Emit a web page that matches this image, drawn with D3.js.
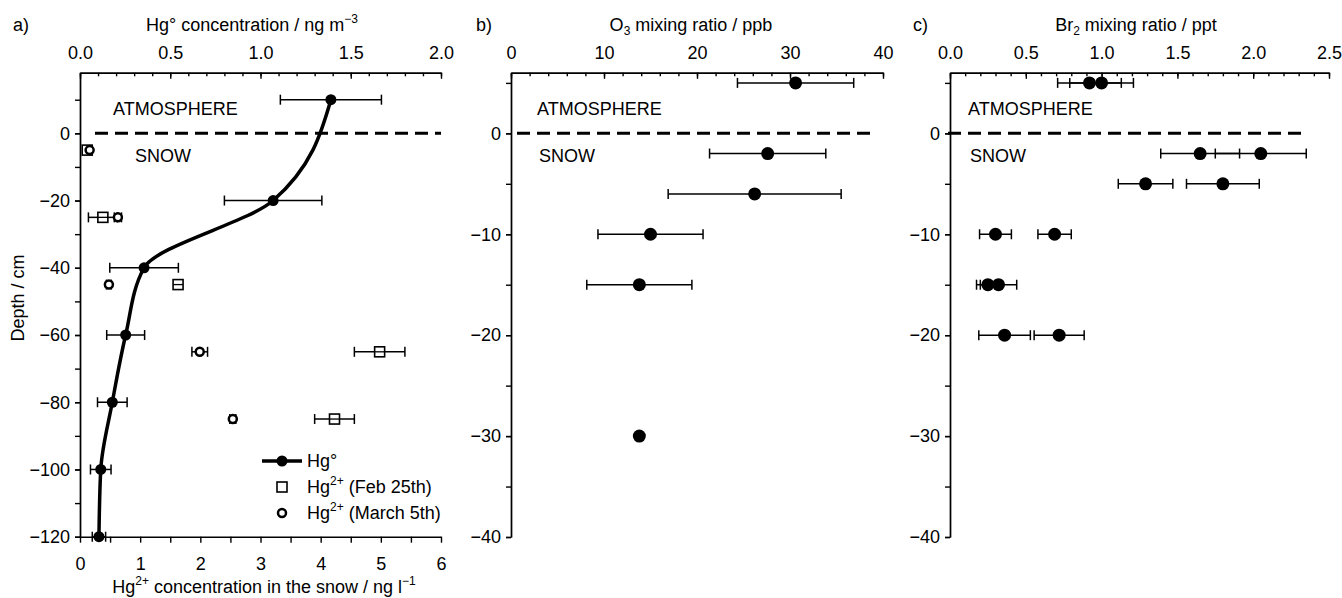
<!DOCTYPE html>
<html><head><meta charset="utf-8">
<script src="https://cdn.jsdelivr.net/npm/d3@7"></script>
<style>
body{margin:0;background:#fff}
svg{display:block}
text{font-family:"Liberation Sans",Arial,Helvetica,sans-serif;fill:#000}
</style>
</head><body>
<svg id="chart" width="1342" height="598"></svg>
<script>
// ---------- data ----------
const hg0Depth = [10, -20, -40, -60, -80, -100, -120];
const hg0Conc  = [1.39, 1.07, 0.355, 0.253, 0.179, 0.115, 0.105];
const hg0Err   = [0.28, 0.27, 0.19, 0.105, 0.082, 0.057, 0.037];

const hg2Depth  = [-5, -25, -45, -65, -85];
const hg2Feb    = [0.12, 0.38, 1.63, 4.98, 4.23];
const hg2FebErr = [0, 0.24, 0.04, 0.42, 0.33];
const hg2Mar    = [0.16, 0.63, 0.48, 1.99, 2.54];
const hg2MarErr = [0, 0.06, 0.04, 0.13, 0.05];

const o3Depth = [5, -2, -6, -10, -15, -30];
const o3Ratio = [30.6, 27.6, 26.2, 15.0, 13.8, 13.8];
const o3Err   = [6.25, 6.25, 9.3, 5.65, 5.65, 0];

const br2Depth  = [5, -2, -5, -10, -15, -20];
const br2RatioA = [0.92, 1.65, 1.29, 0.30, 0.25, 0.36];
const br2ErrA   = [0.21, 0.26, 0.18, 0.105, 0.075, 0.17];
const br2RatioB = [1.00, 2.05, 1.80, 0.69, 0.32, 0.72];
const br2ErrB   = [0.21, 0.30, 0.24, 0.11, 0.12, 0.165];

const hgTopTicks   = [0, 0.5, 1.0, 1.5, 2.0];
const hgBotTicks   = [0, 1, 2, 3, 4, 5, 6];
const depthTicksA  = [0, -20, -40, -60, -80, -100, -120];
const o3Ticks      = [0, 10, 20, 30, 40];
const br2Ticks     = [0, 0.5, 1.0, 1.5, 2.0, 2.5];
const depthTicksBC = [0, -10, -20, -30, -40];

// ---------- setup ----------
const svg = d3.select("#chart");
const TICKF = 18, TEXTF = 18;

function range(a, b, s) { const r = []; for (let v = a; v <= b + 1e-9; v += s) r.push(+v.toFixed(4)); return r; }

function styleAxis(g) {
  g.selectAll("path.domain").attr("stroke", "#000").attr("stroke-width", 1.4);
  g.selectAll(".tick line").attr("stroke", "#000").attr("stroke-width", 1.4);
  g.selectAll(".tick text").attr("font-size", TICKF).attr("fill", "#000")
    .attr("font-family", '"Liberation Sans",Arial,sans-serif');
}

function topAxis(x, y0, major, minor, fmt) {
  const gm = svg.append("g").attr("transform", `translate(0,${y0})`)
    .call(d3.axisTop(x).tickValues(minor).tickSizeInner(-3.5).tickSizeOuter(0).tickFormat(""));
  styleAxis(gm);
  const g = svg.append("g").attr("transform", `translate(0,${y0})`)
    .call(d3.axisTop(x).tickValues(major).tickSizeInner(-6).tickSizeOuter(0).tickPadding(14).tickFormat(fmt));
  styleAxis(g);
}
function leftAxis(y, x0, major, minor) {
  const gm = svg.append("g").attr("transform", `translate(${x0},0)`)
    .call(d3.axisLeft(y).tickValues(minor).tickSize(5).tickSizeOuter(0).tickFormat(""));
  styleAxis(gm);
  const g = svg.append("g").attr("transform", `translate(${x0},0)`)
    .call(d3.axisLeft(y).tickValues(major).tickSize(5).tickSizeOuter(0).tickPadding(5).tickFormat(d3.format("d")));
  styleAxis(g);
}

function errBars(g, xs, ys, vals, errs, depths) {
  vals.forEach((v, i) => {
    const e = errs[i];
    if (e <= 0) return;
    const y = ys(depths[i]);
    const x1 = xs(v - e), x2 = xs(v + e);
    g.append("line").attr("x1", x1).attr("x2", x2).attr("y1", y).attr("y2", y)
      .attr("stroke", "#000").attr("stroke-width", 1.5);
    [x1, x2].forEach(xx => g.append("line").attr("x1", xx).attr("x2", xx)
      .attr("y1", y - 5).attr("y2", y + 5).attr("stroke", "#000").attr("stroke-width", 1.5));
  });
}
function dots(g, xs, ys, vals, depths, r) {
  g.selectAll(null).data(vals).enter().append("circle")
    .attr("cx", d => xs(d)).attr("cy", (d, i) => ys(depths[i])).attr("r", r).attr("fill", "#000");
}
function dashed(x1, x2, y) {
  svg.append("line").attr("x1", x1).attr("x2", x2).attr("y1", y).attr("y2", y)
    .attr("stroke", "#000").attr("stroke-width", 3).attr("stroke-dasharray", "13,7");
}
function label(x, y, txt, anchor) {
  return svg.append("text").attr("x", x).attr("y", y).attr("font-size", TEXTF)
    .attr("text-anchor", anchor || "start").text(txt);
}

// ---------- panel a ----------
const yA = d3.scaleLinear().domain([18, -120]).range([72.8, 536.7]);
const xTopA = d3.scaleLinear().domain([0, 2]).range([80, 441]);
const xBotA = d3.scaleLinear().domain([0, 6]).range([80, 441]);

dashed(95, 441, yA(0));
topAxis(xTopA, yA.range()[0], hgTopTicks, range(0, 2, 0.1), d3.format(".1f"));
leftAxis(yA, 80, depthTicksA, range(-120, 10, 10));
const gb = svg.append("g").attr("transform", `translate(0,${yA(-120)})`)
  .call(d3.axisBottom(xBotA).tickValues(range(0, 6, 0.5)).tickSize(6).tickSizeOuter(0).tickPadding(15)
    .tickFormat(d => Number.isInteger(d) ? d : ""));
styleAxis(gb);

const gA = svg.append("g");
errBars(gA, xTopA, yA, hg0Conc, hg0Err, hg0Depth);
errBars(gA, xBotA, yA, hg2Feb, hg2FebErr, hg2Depth);
errBars(gA, xBotA, yA, hg2Mar, hg2MarErr, hg2Depth);
const line = d3.line().x(d => xTopA(d[0])).y(d => yA(d[1])).curve(d3.curveMonotoneY);
gA.append("path").datum(hg0Conc.map((v, i) => [v, hg0Depth[i]])).attr("d", line)
  .attr("fill", "none").attr("stroke", "#000").attr("stroke-width", 3.5);
dots(gA, xTopA, yA, hg0Conc, hg0Depth, 5.5);
gA.selectAll(null).data(hg2Feb).enter().append("rect")
  .attr("x", d => xBotA(d) - 5).attr("y", (d, i) => yA(hg2Depth[i]) - 5)
  .attr("width", 10).attr("height", 10).attr("fill", "#fff").attr("stroke", "#000").attr("stroke-width", 1.6);
gA.selectAll(null).data(hg2Mar).enter().append("circle")
  .attr("cx", d => xBotA(d)).attr("cy", (d, i) => yA(hg2Depth[i])).attr("r", 4)
  .attr("fill", "#fff").attr("stroke", "#000").attr("stroke-width", 2.5);
// error lines show through the symbols
gA.selectAll(null).data(hg2Feb).enter().append("line")
  .attr("x1", d => xBotA(d) - 5).attr("x2", d => xBotA(d) + 5)
  .attr("y1", (d, i) => yA(hg2Depth[i])).attr("y2", (d, i) => yA(hg2Depth[i]))
  .attr("stroke", (d, i) => hg2FebErr[i] > 0 ? "#000" : "none").attr("stroke-width", 1.3);

label(13, 31, "a)");
const tA = label(252, 31, "Hg° concentration / ng m", "middle");
tA.append("tspan").attr("dy", -8).attr("font-size", 12).text("−3");
label(113, 115, "ATMOSPHERE");
label(135, 162, "SNOW");
svg.append("text").attr("transform", "translate(24,298) rotate(-90)").attr("text-anchor", "middle")
  .attr("font-size", TEXTF).text("Depth / cm");
const tB = label(264, 593, "Hg", "middle");
tB.append("tspan").attr("dy", -8).attr("font-size", 12).text("2+");
tB.append("tspan").attr("dy", 8).text(" concentration in the snow / ng l");
tB.append("tspan").attr("dy", -8).attr("font-size", 12).text("−1");

// legend
svg.append("line").attr("x1", 262).attr("x2", 302).attr("y1", 461).attr("y2", 461)
  .attr("stroke", "#000").attr("stroke-width", 3.5);
svg.append("circle").attr("cx", 282).attr("cy", 461).attr("r", 5.5).attr("fill", "#000");
label(307, 467, "Hg°");
svg.append("rect").attr("x", 277).attr("y", 482).attr("width", 10).attr("height", 10)
  .attr("fill", "#fff").attr("stroke", "#000").attr("stroke-width", 1.6);
const l2 = label(307, 493, "Hg");
l2.append("tspan").attr("dy", -8).attr("font-size", 12).text("2+");
l2.append("tspan").attr("dy", 8).text(" (Feb 25th)");
svg.append("circle").attr("cx", 282).attr("cy", 513).attr("r", 4)
  .attr("fill", "#fff").attr("stroke", "#000").attr("stroke-width", 2.5);
const l3 = label(307, 519, "Hg");
l3.append("tspan").attr("dy", -8).attr("font-size", 12).text("2+");
l3.append("tspan").attr("dy", 8).text(" (March 5th)");

// ---------- panel b ----------
const yB = d3.scaleLinear().domain([6, -40]).range([72.8, 537]);
const xB = d3.scaleLinear().domain([0, 40]).range([511, 883]);
dashed(517, 877, yB(0));
topAxis(xB, yB.range()[0], o3Ticks, range(0, 40, 2), d3.format("d"));
leftAxis(yB, 511, depthTicksBC, range(-40, 5, 5));
const gBp = svg.append("g");
errBars(gBp, xB, yB, o3Ratio, o3Err, o3Depth);
dots(gBp, xB, yB, o3Ratio, o3Depth, 6.5);
label(476, 31, "b)");
const tO = label(691, 31, "O", "middle");
tO.append("tspan").attr("dy", 4).attr("font-size", 12).text("3");
tO.append("tspan").attr("dy", -4).text(" mixing ratio / ppb");
label(537, 115, "ATMOSPHERE");
label(539, 162, "SNOW");

// ---------- panel c ----------
const yC = d3.scaleLinear().domain([6, -40]).range([72.8, 537]);
const xC = d3.scaleLinear().domain([0, 2.5]).range([950, 1329]);
dashed(948, 1307, yC(0));
topAxis(xC, yC.range()[0], br2Ticks, range(0, 2.5, 0.1), d3.format(".1f"));
leftAxis(yC, 950, depthTicksBC, range(-40, 5, 5));
const gC = svg.append("g");
errBars(gC, xC, yC, br2RatioA, br2ErrA, br2Depth);
errBars(gC, xC, yC, br2RatioB, br2ErrB, br2Depth);
dots(gC, xC, yC, br2RatioA, br2Depth, 6.5);
dots(gC, xC, yC, br2RatioB, br2Depth, 6.5);
label(913, 31, "c)");
const tC = label(1136, 31, "Br", "middle");
tC.append("tspan").attr("dy", 4).attr("font-size", 12).text("2");
tC.append("tspan").attr("dy", -4).text(" mixing ratio / ppt");
label(968, 115, "ATMOSPHERE");
label(970, 162, "SNOW");
</script>
</body></html>
